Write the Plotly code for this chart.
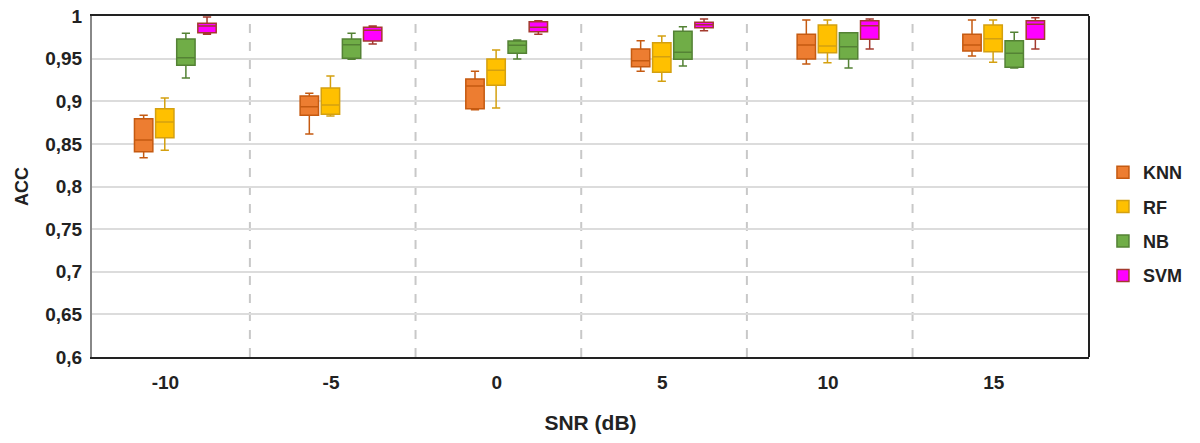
import plotly.graph_objects as go

# SNR levels and classifier stats (min, q1, median, q3, max)
snr_labels = ['-10', '-5', '0', '5', '10', '15']

knn_min = [0.8338, 0.8616, 0.8901, 0.9351, 0.9437, 0.9531]
knn_q1 = [0.8408, 0.8835, 0.8913, 0.9405, 0.9496, 0.9589]
knn_med = [0.8545, 0.8936, 0.9179, 0.9476, 0.9660, 0.9660]
knn_q3 = [0.8795, 0.9062, 0.9261, 0.9613, 0.9785, 0.9785]
knn_max = [0.8835, 0.9093, 0.9351, 0.9710, 0.9953, 0.9953]

rf_min = [0.8425, 0.8827, 0.8921, 0.9234, 0.9452, 0.9457]
rf_q1 = [0.8572, 0.8847, 0.9187, 0.9340, 0.9570, 0.9581]
rf_med = [0.8757, 0.8956, 0.9363, 0.9523, 0.9648, 0.9734]
rf_q3 = [0.8913, 0.9155, 0.9496, 0.9687, 0.9894, 0.9894]
rf_max = [0.9038, 0.9296, 0.9601, 0.9765, 0.9953, 0.9953]

nb_min = [0.9273, 0.9492, 0.9496, 0.9413, 0.9390, 0.9390]
nb_q1 = [0.9422, 0.9504, 0.9562, 0.9492, 0.9496, 0.9398]
nb_med = [0.9511, 0.9663, 0.9656, 0.9574, 0.9640, 0.9562]
nb_q3 = [0.9730, 0.9730, 0.9707, 0.9821, 0.9804, 0.9710]
nb_max = [0.9797, 0.9797, 0.9718, 0.9874, 0.9804, 0.9809]

svm_min = [0.9785, 0.9672, 0.9785, 0.9828, 0.9613, 0.9613]
svm_q1 = [0.9804, 0.9707, 0.9816, 0.9863, 0.9727, 0.9727]
svm_med = [0.9883, 0.9832, 0.9867, 0.9898, 0.9886, 0.9903]
svm_q3 = [0.9914, 0.9867, 0.9933, 0.9926, 0.9945, 0.9945]
svm_max = [0.9988, 0.9883, 0.9945, 0.9965, 0.9965, 0.9980]

series = [
    ('KNN', knn_min, knn_q1, knn_med, knn_q3, knn_max, '#ED7D31', '#C55A11'),
    ('RF', rf_min, rf_q1, rf_med, rf_q3, rf_max, '#FFC000', '#D4A010'),
    ('NB', nb_min, nb_q1, nb_med, nb_q3, nb_max, '#70AD47', '#548235'),
    ('SVM', svm_min, svm_q1, svm_med, svm_q3, svm_max, '#FF00FF', '#A33A2E'),
]

pos = list(range(len(snr_labels)))

fig = go.Figure()
for name, lo, q1, med, q3, hi, fill, edge in series:
    fig.add_trace(go.Box(
        name=name, x=pos, lowerfence=lo, q1=q1, median=med, q3=q3, upperfence=hi,
        fillcolor=fill, line=dict(color=edge, width=1.5), whiskerwidth=0.45,
        legendgroup=name,
    ))

# dashed separators between SNR groups
for i in range(len(snr_labels) - 1):
    fig.add_shape(type='line', xref='x', yref='paper', x0=i + 0.45, x1=i + 0.45, y0=0, y1=1,
                  line=dict(color='#c8c8c8', width=2, dash='dash'), layer='below')
# right border
fig.add_shape(type='line', xref='paper', yref='paper', x0=1, x1=1, y0=0, y1=1,
              line=dict(color='#222', width=2))

bold = dict(family='Arial', size=19, color='#222', weight='bold')

fig.update_layout(
    width=1200, height=443,
    margin=dict(l=92, r=97, t=16, b=86),
    paper_bgcolor='white', plot_bgcolor='white',
    boxmode='group', boxgap=0.49, boxgroupgap=0.13,
    separators=', ',
    showlegend=True,
    legend=dict(x=1.014, y=0.39, xanchor='left', yanchor='middle',
                font=dict(family='Arial', size=18, color='#222', weight='bold'),
                tracegroupgap=8),
    xaxis=dict(range=[-0.503, 5.515], tickvals=[p - 0.06 for p in pos], ticktext=snr_labels,
               automargin=False,
               showgrid=False, zeroline=False, showline=True, linecolor='#222', linewidth=2,
               mirror=True, tickfont=bold, ticks='', ticklabelstandoff=7,
               title=dict(text='SNR (dB)', font=dict(family='Arial', size=21, color='#222', weight='bold'),
                          standoff=24)),
    yaxis=dict(range=[0.6, 1.0], dtick=0.05, showgrid=True, gridcolor='#dcdcdc', gridwidth=2,
               automargin=False,
               zeroline=False, showline=True, linecolor='#888', linewidth=2, ticks='',
               tickfont=bold, ticklabelstandoff=4,
               title=dict(text='ACC', font=dict(family='Arial', size=18, color='#222', weight='bold'),
                          standoff=12)),
)

# drop the default body margin so the figure sits at the page corner
fig.write_html("out.html", config={'displayModeBar': False},
               post_script="document.body.style.margin='0';")
